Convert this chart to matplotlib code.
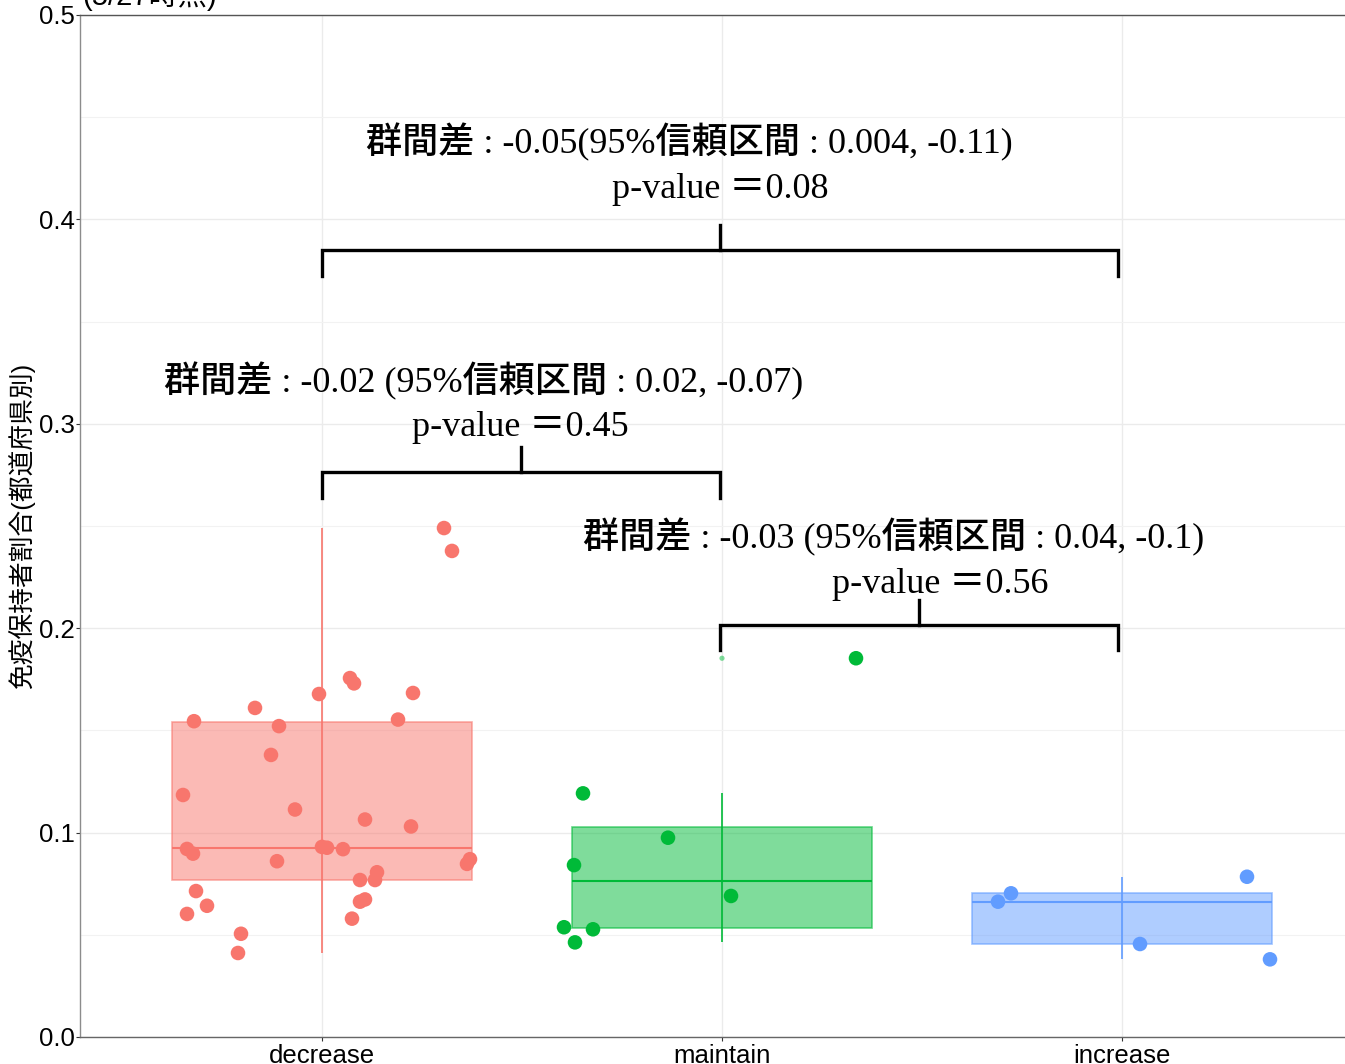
import numpy as np
import matplotlib.pyplot as plt
from matplotlib import cbook
from matplotlib.colors import to_rgb

# データ
groups = ['decrease', 'maintain', 'increase']
colors = ['#F8766D', '#00BA38', '#619CFF']

decrease = [0.249, 0.2378, 0.1756, 0.1730, 0.1678, 0.1683, 0.1610, 0.1545, 0.1521,
            0.1553, 0.1380, 0.1184, 0.1113, 0.1064, 0.1030, 0.0920, 0.0897, 0.0930,
            0.0926, 0.0919, 0.0860, 0.0870, 0.0847, 0.0806, 0.0768, 0.0768, 0.0673,
            0.0662, 0.0714, 0.0642, 0.0602, 0.0579, 0.0505, 0.0411]
decrease_jitter = [0.305, 0.325, 0.07, 0.08, -0.0075, 0.2275, -0.1675, -0.32, -0.1075,
                   0.19, -0.1275, -0.3475, -0.0675, 0.1075, 0.2225, -0.3375, -0.3225, 0.0,
                   0.0125, 0.0525, -0.1125, 0.37, 0.3625, 0.1375, 0.1325, 0.095, 0.1075,
                   0.095, -0.315, -0.2875, -0.3375, 0.075, -0.2025, -0.21]

maintain = [0.1853, 0.1192, 0.0975, 0.0841, 0.0690, 0.0537, 0.0527, 0.0463]
maintain_jitter = [0.335, -0.3475, -0.135, -0.37, 0.0225, -0.395, -0.3225, -0.3675]

increase = [0.0662, 0.0703, 0.0455, 0.0784, 0.0380]
increase_jitter = [-0.31, -0.2775, 0.045, 0.3125, 0.37]

values = [decrease, maintain, increase]
jitters = [decrease_jitter, maintain_jitter, increase_jitter]

# 群間比較の注釈
comparisons = [
    (1, 2.99, 0.385, '群間差 : -0.05(95%信頼区間 : 0.004, -0.11)', 'p-value ＝0.08'),
    (1, 1.995, 0.2764, '群間差 : -0.02 (95%信頼区間 : 0.02, -0.07)', 'p-value ＝0.45'),
    (1.995, 2.99, 0.2016, '群間差 : -0.03 (95%信頼区間 : 0.04, -0.1)', 'p-value ＝0.56'),
]
label_pos = [(1.9175, 0.4325, 1.995, 0.4105),
             (1.405, 0.3156, 1.495, 0.294),
             (2.43, 0.2392, 2.545, 0.2172)]

plt.rcParams['font.family'] = ['Liberation Sans', 'Noto Sans CJK JP']

fig = plt.figure(figsize=(13.45, 10.64), dpi=100)
ax = fig.add_axes([80 / 1345, 27 / 1064, 1 - 80 / 1345, (1037 - 15) / 1064])

positions = [1, 2, 3]
stats = cbook.boxplot_stats(values, whis=1.5)

# ひげ（箱の下に描画）
for p, s, c in zip(positions, stats, colors):
    ax.vlines(p, s['whislo'], s['whishi'], color=c, lw=1.2, zorder=2)
    if len(s['fliers']):
        ax.scatter([p] * len(s['fliers']), s['fliers'], s=14, color=c, alpha=0.5,
                   edgecolors='none', zorder=3)

bp = ax.bxp(stats, positions=positions, widths=0.75, patch_artist=True,
            showcaps=False, showfliers=False, zorder=3,
            whiskerprops=dict(linewidth=0),
            medianprops=dict(linewidth=1.5))
for box, med, c in zip(bp['boxes'], bp['medians'], colors):
    box.set_facecolor((*to_rgb(c), 0.5))
    box.set_edgecolor((*to_rgb(c), 0.6))
    box.set_linewidth(1.2)
    med.set_color(c)

# ジッター点
for p, v, j, c in zip(positions, values, jitters, colors):
    ax.scatter(np.array(j) + p, v, s=110, color=c, edgecolors='none', zorder=4)

# 注釈
serif = ['Liberation Serif', 'Noto Sans CJK JP']
for (x1, x2, y, t1, t2), (lx1, ly1, lx2, ly2) in zip(comparisons, label_pos):
    ax.plot([x1, x1, x2, x2], [y - 0.0125, y, y, y - 0.0125], color='black', lw=2.4,
            solid_joinstyle='miter', zorder=5)
    ax.plot([(x1 + x2) / 2] * 2, [y, y + 0.0122], color='black', lw=2.4, zorder=5)
    ax.text(lx1, ly1, t1, ha='center', va='baseline', fontsize=26, family=serif,
            fontweight=500)
    ax.text(lx2, ly2, t2, ha='center', va='baseline', fontsize=26, family=serif,
            fontweight=500)

ax.set_xlim(0.395, 3.5575)
ax.set_ylim(0, 0.5)
ax.set_xticks(positions)
ax.set_xticklabels(groups)
ax.set_yticks([0, 0.1, 0.2, 0.3, 0.4, 0.5])
ax.set_yticklabels(['0.0', '0.1', '0.2', '0.3', '0.4', '0.5'])
ax.set_yticks([0.05, 0.15, 0.25, 0.35, 0.45], minor=True)
ax.tick_params(axis='both', labelsize=18.5, colors='#333333', length=3, width=0.8,
               labelcolor='black')
ax.tick_params(axis='x', pad=2, length=3)
ax.tick_params(axis='y', pad=1)
ax.tick_params(axis='y', which='minor', length=0)
ax.grid(True, which='major', color='#EBEBEB', lw=1.0, zorder=0)
ax.grid(True, which='minor', axis='y', color='#F2F2F2', lw=0.8, zorder=0)
ax.set_axisbelow(True)
ax.spines['right'].set_visible(False)
ax.spines['left'].set_color('#8c8c8c')
ax.spines['bottom'].set_color('#666666')
ax.spines['top'].set_color('#555555')
for sp in ax.spines.values():
    sp.set_linewidth(1.0)

ax.set_ylabel('免疫保持者割合(都道府県別)', fontsize=18.5)
ax.yaxis.set_label_coords(-45 / 1265, 0.5)
fig.text(82 / 1345, 1 - 5 / 1064, '(5/27時点)', fontsize=21, ha='left', va='baseline')

fig.savefig('out.png', dpi=100)
